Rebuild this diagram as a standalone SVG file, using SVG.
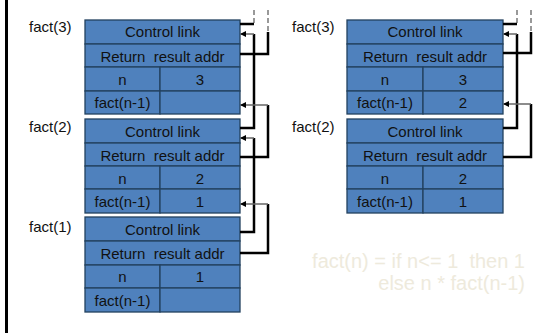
<svg xmlns="http://www.w3.org/2000/svg" width="560" height="333" viewBox="0 0 560 333">
<style>
.cell{fill:#4f81bd;stroke:#23415f;stroke-width:1.3}
.t{font-family:"Liberation Sans",Arial,sans-serif;font-size:15px;fill:#111;text-anchor:middle;white-space:pre}
.lbl{font-family:"Liberation Sans",Arial,sans-serif;font-size:15px;fill:#111;white-space:pre}
.w{fill:none;stroke:#000;stroke-width:2.5}
.a{fill:none;stroke:#666;stroke-width:1.5;marker-end:url(#ah)}
.d{fill:none;stroke:#999;stroke-width:2;stroke-dasharray:5 3}
.f{font-family:"Liberation Sans",Arial,sans-serif;font-size:20px;fill:#eeeadc;white-space:pre}
</style>
<defs>
<marker id="ah" viewBox="0 0 6 6" refX="5" refY="3" markerWidth="6" markerHeight="6" markerUnits="userSpaceOnUse" orient="auto">
<path d="M0,0 L6,3 L0,6 z" fill="#000"/>
</marker>
</defs>
<rect width="560" height="333" fill="#fff"/>
<line x1="6.5" y1="0" x2="6.5" y2="333" stroke="#000" stroke-width="3"/>

<g id="L-fact3">
<text class="lbl" x="29" y="32">fact(3)</text>
<rect class="cell" x="85" y="20" width="155" height="24"/>
<rect class="cell" x="85" y="44" width="155" height="23"/>
<rect class="cell" x="85" y="67" width="75" height="24"/>
<rect class="cell" x="160" y="67" width="80" height="24"/>
<rect class="cell" x="85" y="91" width="75" height="23"/>
<rect class="cell" x="160" y="91" width="80" height="23"/>
<text class="t" x="162.5" y="37">Control link</text>
<text class="t" x="162.5" y="62">Return  result addr</text>
<text class="t" x="122.5" y="85">n</text>
<text class="t" x="200" y="85">3</text>
<text class="t" x="122.5" y="108">fact(n-1)</text>
</g>

<g id="L-fact2">
<text class="lbl" x="29" y="132">fact(2)</text>
<rect class="cell" x="85" y="119" width="155" height="24"/>
<rect class="cell" x="85" y="143" width="155" height="23"/>
<rect class="cell" x="85" y="166" width="75" height="23"/>
<rect class="cell" x="160" y="166" width="80" height="23"/>
<rect class="cell" x="85" y="189" width="75" height="24"/>
<rect class="cell" x="160" y="189" width="80" height="24"/>
<text class="t" x="162.5" y="137">Control link</text>
<text class="t" x="162.5" y="161">Return  result addr</text>
<text class="t" x="122.5" y="184">n</text>
<text class="t" x="200" y="184">2</text>
<text class="t" x="122.5" y="207">fact(n-1)</text>
<text class="t" x="200" y="207">1</text>
</g>

<g id="L-fact1">
<text class="lbl" x="29" y="232">fact(1)</text>
<rect class="cell" x="85" y="217" width="155" height="24"/>
<rect class="cell" x="85" y="241" width="155" height="24"/>
<rect class="cell" x="85" y="265" width="75" height="23"/>
<rect class="cell" x="160" y="265" width="80" height="23"/>
<rect class="cell" x="85" y="288" width="75" height="24"/>
<rect class="cell" x="160" y="288" width="80" height="24"/>
<text class="t" x="162.5" y="235">Control link</text>
<text class="t" x="162.5" y="259">Return  result addr</text>
<text class="t" x="122.5" y="282">n</text>
<text class="t" x="200" y="282">1</text>
<text class="t" x="122.5" y="306">fact(n-1)</text>
</g>

<g id="R-fact3">
<text class="lbl" x="292" y="32">fact(3)</text>
<rect class="cell" x="347" y="20" width="156" height="24"/>
<rect class="cell" x="347" y="44" width="156" height="23"/>
<rect class="cell" x="347" y="67" width="76" height="24"/>
<rect class="cell" x="423" y="67" width="80" height="24"/>
<rect class="cell" x="347" y="91" width="76" height="23"/>
<rect class="cell" x="423" y="91" width="80" height="23"/>
<text class="t" x="425" y="37">Control link</text>
<text class="t" x="425" y="62">Return  result addr</text>
<text class="t" x="385" y="85">n</text>
<text class="t" x="463" y="85">3</text>
<text class="t" x="385" y="108">fact(n-1)</text>
<text class="t" x="463" y="108">2</text>
</g>

<g id="R-fact2">
<text class="lbl" x="292" y="132">fact(2)</text>
<rect class="cell" x="347" y="119" width="156" height="24"/>
<rect class="cell" x="347" y="143" width="156" height="23"/>
<rect class="cell" x="347" y="166" width="76" height="23"/>
<rect class="cell" x="423" y="166" width="80" height="23"/>
<rect class="cell" x="347" y="189" width="76" height="24"/>
<rect class="cell" x="423" y="189" width="80" height="24"/>
<text class="t" x="425" y="137">Control link</text>
<text class="t" x="425" y="161">Return  result addr</text>
<text class="t" x="385" y="184">n</text>
<text class="t" x="463" y="184">2</text>
<text class="t" x="385" y="207">fact(n-1)</text>
<text class="t" x="463" y="207">1</text>
</g>

<g id="connectors">
<!-- left -->
<line class="d" x1="254" y1="10" x2="254" y2="24"/>
<line class="d" x1="268" y1="10" x2="268" y2="32"/>
<polyline class="w" points="240,24 254,24"/>
<polyline class="w" points="240,54 268,54 268,32"/>
<polyline class="w" points="240,128 254,128 254,34"/>
<line class="a" x1="254" y1="34" x2="241" y2="34"/>
<polyline class="w" points="240,157 268,157 268,105"/>
<line class="a" x1="268" y1="105" x2="241" y2="105"/>
<polyline class="w" points="240,232 254,232 254,138"/>
<line class="a" x1="254" y1="138" x2="241" y2="138"/>
<polyline class="w" points="240,253 268,253 268,204"/>
<line class="a" x1="268" y1="204" x2="241" y2="204"/>
<!-- right -->
<line class="d" x1="517" y1="10" x2="517" y2="24"/>
<line class="d" x1="531" y1="10" x2="531" y2="32"/>
<polyline class="w" points="503,24 517,24"/>
<polyline class="w" points="503,53 531,53 531,32"/>
<polyline class="w" points="503,128 517,128 517,34"/>
<line class="a" x1="517" y1="34" x2="504" y2="34"/>
<polyline class="w" points="503,157 531,157 531,104"/>
<line class="a" x1="531" y1="104" x2="504" y2="104"/>
</g>

<text class="f" x="525" y="268" text-anchor="end">fact(n) = if n&lt;= 1  then 1</text>
<text class="f" x="525" y="290" text-anchor="end">else n * fact(n-1)</text>
</svg>
